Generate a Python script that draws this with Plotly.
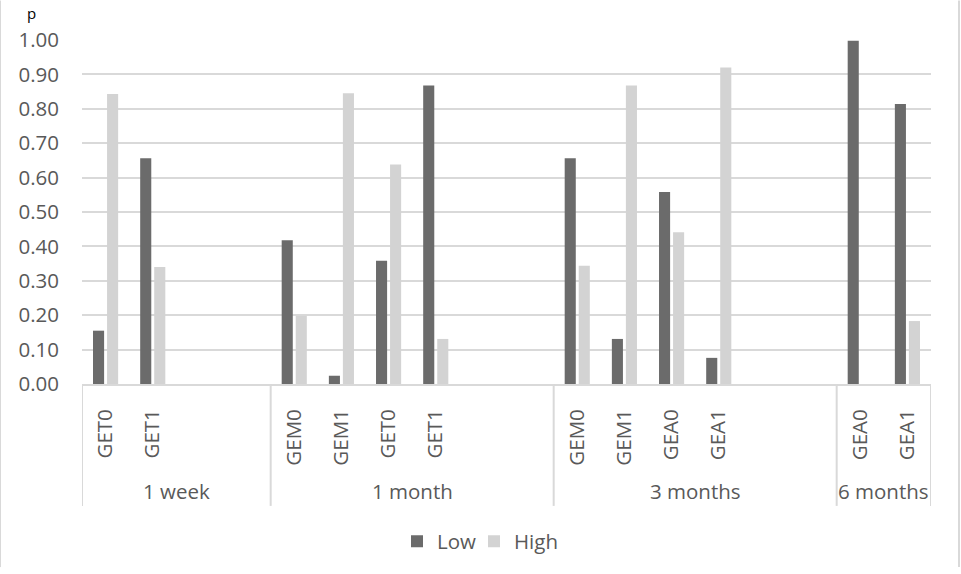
import plotly.graph_objects as go

categories = ["GET0", "GET1", "", "",
              "GEM0", "GEM1", "GET0", "GET1", "", "",
              "GEM0", "GEM1", "GEA0", "GEA1", "", "",
              "GEA0", "GEA1"]
periods = ["1 week", "1 month", "3 months", "6 months"]
period_sizes = [4, 6, 6, 2]
low = [0.155, 0.656, None, None,
       0.418, 0.024, 0.358, 0.868, None, None,
       0.656, 0.131, 0.558, 0.076, None, None,
       0.998, 0.814]
high = [0.843, 0.340, None, None,
        0.198, 0.845, 0.638, 0.131, None, None,
        0.344, 0.868, 0.441, 0.920, None, None,
        0.0, 0.183]
y_ticks = [i / 10 for i in range(11)]

FONT = "Open Sans"
FS = 20.5
TXT = "#595959"
GRID = "#d9d9d9"
W, H = 961, 574

x = list(range(len(categories)))

fig = go.Figure()
fig.add_trace(go.Bar(x=x, y=low, name="Low", legend="legend",
                     marker=dict(color="#6b6b6b", line=dict(width=0))))
fig.add_trace(go.Bar(x=x, y=high, name="High", legend="legend2",
                     marker=dict(color="#d3d3d3", line=dict(width=0))))

tickvals = [i for i, c in enumerate(categories) if c]
ticktext = [c for c in categories if c]

# plot area geometry (pixels) used for paper-relative placement
PL, PR, PT, PB = 82, 931, 40, 388.5
PH = PB - PT
PW = PR - PL

def py(pix):
    return (PB - pix) / PH

def px(pix):
    return (pix - PL) / PW

shapes = []
annotations = []
start = 0
bounds = [-0.5]
for name, size in zip(periods, period_sizes):
    center = start + (size - 1) / 2
    annotations.append(dict(x=center, y=py(497), xref="x", yref="paper", text=name,
                            showarrow=False, xanchor="center", yanchor="middle",
                            font=dict(family=FONT, size=FS, color=TXT)))
    start += size
    bounds.append(start - 0.5)
for b in bounds:
    shapes.append(dict(type="line", xref="x", yref="paper", x0=b, x1=b, y0=0, y1=py(512),
                       line=dict(color=GRID, width=2)))

# chart border (left/right)
shapes.append(dict(type="line", xref="paper", yref="paper", x0=px(0.5), x1=px(0.5),
                   y0=py(0), y1=py(574), line=dict(color=GRID, width=1)))
shapes.append(dict(type="line", xref="paper", yref="paper", x0=px(959), x1=px(959),
                   y0=py(0), y1=py(574), line=dict(color=GRID, width=2)))

annotations.append(dict(x=px(31), y=py(0), xref="paper", yref="paper", text="p",
                        showarrow=False, xanchor="center", yanchor="top",
                        font=dict(family=FONT, size=15, color="#000000")))

leg_common = dict(orientation="h", xanchor="left", yanchor="middle", y=py(548),
                  font=dict(family=FONT, size=FS, color=TXT), itemwidth=30,
                  bgcolor="rgba(0,0,0,0)")

fig.update_layout(
    width=W, height=H,
    margin=dict(l=PL, r=W - PR, t=PT, b=H - PB),
    plot_bgcolor="white", paper_bgcolor="white",
    barmode="group", bargap=0.405, bargroupgap=0.21,
    font=dict(family=FONT, size=FS, color=TXT),
    showlegend=True,
    legend=dict(x=px(397), **leg_common),
    legend2=dict(x=px(474), **leg_common),
    shapes=shapes,
    annotations=annotations,
)
fig.update_xaxes(range=[-0.5, len(categories) - 0.5], tickmode="array",
                 tickvals=tickvals, ticktext=ticktext, tickangle=-90,
                 showgrid=False, zeroline=False, showline=True, linecolor=GRID, linewidth=2,
                 ticks="", ticklabelstandoff=15,
                 tickfont=dict(family=FONT, size=FS, color=TXT))
fig.update_yaxes(range=[0, 1], tickmode="array", tickvals=y_ticks,
                 ticktext=[f"{v:.2f}" for v in y_ticks],
                 showgrid=True, gridcolor=GRID, gridwidth=2, zeroline=False,
                 showline=False, ticks="", ticklabelstandoff=22,
                 tickfont=dict(family=FONT, size=FS, color=TXT))

fig.write_html(
    "out.html",
    config={"displayModeBar": False},
    post_script=(
        "var s='margin:0;padding:0;overflow:hidden;height:574px;';"
        "document.documentElement.style.cssText=s;document.body.style.cssText=s;"
    ),
)
